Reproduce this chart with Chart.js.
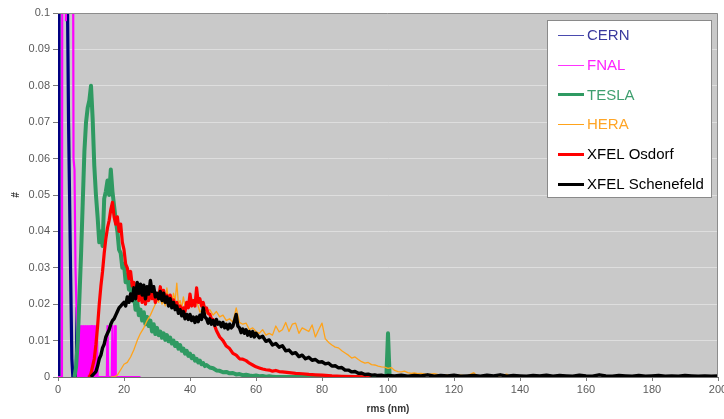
<!DOCTYPE html>
<html>
<head>
<meta charset="utf-8">
<script src="https://cdn.jsdelivr.net/npm/chart.js@4"></script>
<style>
html,body{margin:0;padding:0;background:#fff;}
canvas{display:block;}
</style>
</head>
<body>
<canvas id="c" width="724" height="419"></canvas>
<script>
// ---------- data ----------
const seriesNames = ['CERN', 'FNAL', 'TESLA', 'HERA', 'XFEL Osdorf', 'XFEL Schenefeld'];
const xTickValues = [0, 20, 40, 60, 80, 100, 120, 140, 160, 180, 200];

const cernX = [0, 0.3, 1.5, 2.5, 2.9, 3.2, 3.5, 3.8, 4.2, 4.5, 5.5, 5.8, 6.1, 10];
const cernY = [0, 0.30, 0.35, 0.20, 0.10, 0.07, 0.05, 0.03, 0.005, 0, 0, 0.019, 0, 0];

const fnalX = [0, 1.2, 1.35, 2.2, 2.4, 2.6, 4.4, 4.7, 5.0, 5.3, 5.6, 5.8, 6.1, 6.4, 6.7, 7.0, 7.3, 7.6, 7.9, 8.2, 8.5, 8.8, 9.1, 9.4, 9.7, 10.0, 10.3, 10.6, 10.9, 11.2, 11.5, 11.8, 12.0, 14.8, 15.0, 15.2, 16.3, 16.5, 16.7, 17.1, 17.3, 17.5, 25];
const fnalY = [0, 0, 0.2, 0.2, 0.098, 0.2, 0.2, 0.06, 0.057, 0.03, 0.019, 0.014, 0, 0.014, 0, 0.014, 0, 0.014, 0, 0.014, 0, 0.014, 0, 0.014, 0, 0.014, 0, 0.014, 0, 0.014, 0, 0.014, 0, 0, 0.014, 0, 0, 0.014, 0, 0, 0.014, 0, 0];

const teslaX = [5, 5.5, 6, 6.5, 7, 7.5, 8, 8.5, 9, 9.5, 10, 10.5, 11, 11.5, 12, 12.5, 13, 13.5, 14, 14.5, 15, 15.5, 16, 16.5, 17, 17.5, 18, 18.5, 19, 19.5, 20, 20.5, 21, 21.5, 22, 22.5, 23, 23.5, 24, 24.5, 25, 25.5, 26, 26.5, 27, 27.5, 28, 28.5, 29, 29.5, 30, 30.5, 31, 31.5, 32, 32.5, 33, 33.5, 34, 34.5, 35, 35.5, 36, 36.5, 37, 37.5, 38, 38.5, 39, 39.5, 40, 40.5, 41, 41.5, 42, 42.5, 43, 43.5, 44, 44.5, 45, 46, 47, 48, 49, 50, 51, 52, 53, 54, 55, 56, 57, 58, 59, 60, 61, 62, 63, 64, 65, 66, 99.5, 100, 100.5, 104];
const teslaY = [0, 0.003, 0.010, 0.022, 0.034, 0.048, 0.062, 0.070, 0.074, 0.076, 0.080, 0.071, 0.058, 0.050, 0.044, 0.037, 0.040, 0.036, 0.049, 0.051, 0.054, 0.050, 0.057, 0.051, 0.047, 0.043, 0.040, 0.035, 0.034, 0.030, 0.031, 0.026, 0.028, 0.024, 0.0255, 0.021, 0.0225, 0.0185, 0.0205, 0.017, 0.0185, 0.0155, 0.0178, 0.0145, 0.0165, 0.014, 0.0155, 0.0125, 0.0145, 0.0118, 0.0135, 0.0115, 0.0125, 0.0108, 0.012, 0.0102, 0.0115, 0.0098, 0.0108, 0.0092, 0.0100, 0.0085, 0.0094, 0.0078, 0.0088, 0.0072, 0.0078, 0.0064, 0.0072, 0.0058, 0.0064, 0.0052, 0.0058, 0.0045, 0.005, 0.004, 0.0045, 0.0035, 0.0038, 0.003, 0.0033, 0.0026, 0.0024, 0.0018, 0.0017, 0.0013, 0.0014, 0.001, 0.0011, 0.0007, 0.0008, 0.0005, 0.0006, 0.0004, 0.0003, 0.0004, 0.0002, 0.0003, 0.0001, 0.0002, 0.0001, 0, 0, 0.012, 0, 0];

const heraX = [16, 17, 18, 19, 20, 21, 22, 23, 24, 25, 26, 27, 28, 29, 30, 30.5, 31, 31.5, 32, 32.5, 33, 33.5, 34, 34.5, 35, 35.5, 36, 36.5, 37, 37.5, 38, 38.5, 39, 39.5, 40, 41, 42, 43, 44, 45, 46, 47, 48, 49, 50, 51, 52, 53, 54, 55, 56, 57, 58, 59, 60, 61, 62, 63, 64, 65, 66, 67, 68, 69, 70, 71, 72, 73, 74, 75, 76, 77, 78, 79, 80, 81, 82, 83, 84, 85, 86, 87, 88, 89, 90, 91, 92, 93, 94, 95, 96, 97, 98, 99, 100, 101, 102, 103, 104, 105, 106, 107, 108, 109, 110, 112, 114, 116, 118, 120, 122, 124, 126, 127, 130, 133, 136, 137, 140];
const heraY = [0, 0, 0.0005, 0.002, 0.0035, 0.004, 0.0055, 0.0075, 0.010, 0.012, 0.0135, 0.0155, 0.017, 0.019, 0.021, 0.0205, 0.0225, 0.020, 0.021, 0.0195, 0.0245, 0.021, 0.022, 0.0205, 0.023, 0.021, 0.0258, 0.020, 0.021, 0.019, 0.022, 0.0195, 0.0205, 0.019, 0.023, 0.020, 0.021, 0.0178, 0.019, 0.0175, 0.0185, 0.017, 0.018, 0.0165, 0.017, 0.0155, 0.016, 0.015, 0.019, 0.015, 0.0145, 0.0148, 0.013, 0.0135, 0.0125, 0.012, 0.013, 0.0115, 0.012, 0.0115, 0.014, 0.0124, 0.013, 0.015, 0.0125, 0.0145, 0.0148, 0.012, 0.0135, 0.013, 0.0125, 0.0143, 0.011, 0.013, 0.0148, 0.0105, 0.0095, 0.0088, 0.0082, 0.008, 0.0072, 0.0066, 0.006, 0.0052, 0.0055, 0.0048, 0.0042, 0.0038, 0.004, 0.0034, 0.0033, 0.003, 0.0028, 0.0027, 0.0024, 0.0026, 0.0018, 0.0015, 0.0014, 0.0016, 0.0012, 0.001, 0.0011, 0.0009, 0.001, 0.0007, 0.0009, 0.0005, 0.0006, 0.0004, 0.0005, 0.0003, 0.0012, 0.0002, 0.0003, 0.0002, 0.0008, 0.0001, 0];

const osdorfX = [9, 9.5, 10, 10.5, 11, 11.5, 12, 12.5, 13, 13.5, 14, 14.5, 15, 15.5, 16, 16.5, 17, 17.5, 18, 18.5, 19, 19.5, 20, 20.5, 21, 21.5, 22, 22.5, 23, 23.5, 24, 24.5, 25, 25.5, 26, 26.5, 27, 27.5, 28, 28.5, 29, 29.5, 30, 30.5, 31, 31.5, 32, 32.5, 33, 33.5, 34, 34.5, 35, 35.5, 36, 36.5, 37, 37.5, 38, 38.5, 39, 39.5, 40, 40.5, 41, 41.5, 42, 42.5, 43, 43.5, 44, 44.5, 45, 45.5, 46, 46.5, 47, 47.5, 48, 49, 50, 51, 52, 53, 54, 55, 56, 57, 58, 59, 60, 61, 62, 63, 64, 65, 66, 67, 68, 70, 72, 74, 76, 78, 80, 83, 86, 90, 95];
const osdorfY = [0, 0, 0.001, 0.003, 0.005, 0.009, 0.014, 0.020, 0.025, 0.029, 0.034, 0.038, 0.041, 0.043, 0.046, 0.048, 0.044, 0.042, 0.044, 0.040, 0.042, 0.037, 0.035, 0.031, 0.030, 0.027, 0.029, 0.025, 0.026, 0.0225, 0.024, 0.021, 0.0228, 0.0205, 0.022, 0.020, 0.0228, 0.021, 0.0235, 0.0215, 0.0232, 0.0205, 0.023, 0.0215, 0.0248, 0.022, 0.0238, 0.0215, 0.0225, 0.020, 0.0225, 0.0198, 0.0212, 0.019, 0.0205, 0.0182, 0.0195, 0.0178, 0.019, 0.018, 0.0205, 0.019, 0.0228, 0.0195, 0.021, 0.0195, 0.0245, 0.0205, 0.0215, 0.0195, 0.0205, 0.0185, 0.019, 0.0175, 0.0172, 0.016, 0.0158, 0.014, 0.0128, 0.011, 0.010, 0.0085, 0.0078, 0.0065, 0.006, 0.005, 0.0049, 0.0045, 0.0038, 0.0033, 0.0028, 0.0025, 0.0022, 0.002, 0.0019, 0.0016, 0.0018, 0.0015, 0.0014, 0.0012, 0.001, 0.0009, 0.0007, 0.0006, 0.0005, 0.0003, 0.0002, 0.0001, 0];

const schenefeldX = [10, 10.5, 11, 11.5, 12, 12.5, 13, 13.5, 14, 14.5, 15, 15.5, 16, 16.5, 17, 17.5, 18, 18.5, 19, 19.5, 20, 20.5, 21, 21.5, 22, 22.5, 23, 23.5, 24, 24.5, 25, 25.5, 26, 26.5, 27, 27.5, 28, 28.5, 29, 29.5, 30, 30.5, 31, 31.5, 32, 32.5, 33, 33.5, 34, 34.5, 35, 35.5, 36, 36.5, 37, 37.5, 38, 38.5, 39, 39.5, 40, 40.5, 41, 41.5, 42, 42.5, 43, 43.5, 44, 44.5, 45, 45.5, 46, 46.5, 47, 47.5, 48, 48.5, 49, 49.5, 50, 50.5, 51, 51.5, 52, 52.5, 53, 53.5, 54, 54.5, 55, 55.5, 56, 56.5, 57, 57.5, 58, 58.5, 59, 59.5, 60, 61, 62, 63, 64, 65, 66, 67, 68, 69, 70, 71, 72, 73, 74, 75, 76, 77, 78, 79, 80, 81, 82, 83, 84, 85, 86, 87, 88, 89, 90, 91, 92, 93, 94, 95, 96, 97, 98, 99, 100, 102, 104, 106, 108, 110, 112, 114, 116, 118, 120, 122, 124, 126, 128, 130, 132, 134, 136, 138, 140, 142, 144, 146, 148, 150, 152, 154, 156, 158, 160, 162, 164, 166, 168, 170, 172, 174, 176, 178, 180, 182, 184, 186, 188, 190, 192, 194, 196, 198, 200];
const schenefeldY = [0, 0.0005, 0.001, 0.0015, 0.003, 0.005, 0.006, 0.008, 0.009, 0.011, 0.012, 0.013, 0.0145, 0.0155, 0.016, 0.017, 0.018, 0.019, 0.0195, 0.020, 0.0205, 0.0195, 0.022, 0.0205, 0.0228, 0.021, 0.0245, 0.0215, 0.026, 0.023, 0.0255, 0.0225, 0.0252, 0.0215, 0.0248, 0.0228, 0.0265, 0.0235, 0.0248, 0.022, 0.023, 0.0215, 0.0235, 0.021, 0.023, 0.0205, 0.022, 0.0195, 0.0215, 0.019, 0.0205, 0.0185, 0.0195, 0.0175, 0.0185, 0.0168, 0.018, 0.016, 0.0172, 0.0158, 0.0172, 0.0155, 0.0165, 0.015, 0.0165, 0.0152, 0.017, 0.0158, 0.019, 0.0165, 0.016, 0.0148, 0.016, 0.0145, 0.0155, 0.0142, 0.0158, 0.0145, 0.015, 0.0138, 0.015, 0.0135, 0.0145, 0.0132, 0.0145, 0.0135, 0.014, 0.0155, 0.0172, 0.014, 0.0135, 0.0122, 0.0132, 0.012, 0.013, 0.0115, 0.0125, 0.0112, 0.0125, 0.011, 0.012, 0.0108, 0.0112, 0.0098, 0.0102, 0.0088, 0.0092, 0.0082, 0.0086, 0.0072, 0.0074, 0.0064, 0.0067, 0.0056, 0.006, 0.005, 0.0054, 0.0046, 0.0048, 0.0041, 0.0042, 0.0036, 0.0038, 0.003, 0.0031, 0.0025, 0.0026, 0.0019, 0.0019, 0.0014, 0.0015, 0.001, 0.0011, 0.0007, 0.0008, 0.0005, 0.0006, 0.0004, 0.0005, 0.0003, 0.0004, 0.0003, 0.0005, 0.0002, 0.0004, 0.0003, 0.0006, 0.0002, 0.0004, 0.0003, 0.0005, 0.0002, 0.0003, 0.0004, 0.0002, 0.0005, 0.0003, 0.0006, 0.0002, 0.0004, 0.0003, 0.0002, 0.0004, 0.0003, 0.0005, 0.0002, 0.0004, 0.0003, 0.0002, 0.0005, 0.0003, 0.0002, 0.0006, 0.0003, 0.0002, 0.0004, 0.0003, 0.0002, 0.0004, 0.0002, 0.0003, 0.0004, 0.0002, 0.0003, 0.0002, 0.0004, 0.0003, 0.0002, 0.0003, 0.0002, 0.0003, 0.0002];

// ---------- styles ----------
const lineColors  = ['#000080', '#ff00ff', '#2f9a62', '#ffa31a', '#ff0000', '#000000'];
const lineWidths  = [3.2, 2.2, 4, 1.3, 3.2, 3.4];
const legendText  = ['#3a3a9e', '#ff22ff', '#3f9f6f', '#ffa526', '#000000', '#000000'];
const legendLineC = ['#4a4aae', '#ff33ff', '#2f9a62', '#ffa31a', '#ff0000', '#000000'];
const legendLineW = [1, 1, 3, 1, 3, 3];

const xs = [cernX, fnalX, teslaX, heraX, osdorfX, schenefeldX];
const ys = [cernY, fnalY, teslaY, heraY, osdorfY, schenefeldY];

const datasets = seriesNames.map((name, i) => ({
  label: name,
  data: xs[i].map((x, k) => ({x: x, y: ys[i][k]})),
  borderColor: lineColors[i],
  backgroundColor: lineColors[i],
  borderWidth: lineWidths[i],
  pointRadius: 0,
  tension: 0,
  fill: false,
  borderJoinStyle: 'round',
  order: seriesNames.length - i
}));

const plotBg = {
  id: 'plotBg',
  beforeDraw(chart) {
    const {ctx, chartArea: a} = chart;
    ctx.save();
    ctx.fillStyle = '#c9c9c9';
    ctx.fillRect(a.left, a.top, a.right - a.left, a.bottom - a.top);
    ctx.restore();
  },
  afterDatasetsDraw(chart) {
    const {ctx, chartArea: a} = chart;
    ctx.save();
    ctx.strokeStyle = '#8c8c8c';
    ctx.lineWidth = 1;
    ctx.beginPath();
    ctx.moveTo(a.left, a.top + 0.5);
    ctx.lineTo(a.right - 0.5, a.top + 0.5);
    ctx.lineTo(a.right - 0.5, a.bottom);
    ctx.stroke();
    ctx.restore();
  }
};

const boxLegend = {
  id: 'boxLegend',
  afterDraw(chart) {
    const ctx = chart.ctx;
    const bx = 547, by = 20, bw = 165, bh = 178;
    ctx.save();
    ctx.fillStyle = '#ffffff';
    ctx.fillRect(bx, by, bw, bh);
    ctx.strokeStyle = '#8a8a8a';
    ctx.lineWidth = 1;
    ctx.strokeRect(bx + 0.5, by + 0.5, bw - 1, bh - 1);
    ctx.font = '15px "Liberation Sans", Arial, sans-serif';
    ctx.textBaseline = 'middle';
    ctx.textAlign = 'left';
    seriesNames.forEach((name, i) => {
      const y = 35 + i * 29.7;
      ctx.strokeStyle = legendLineC[i];
      ctx.lineWidth = legendLineW[i];
      ctx.beginPath();
      ctx.moveTo(558, Math.round(y) + (legendLineW[i] % 2 ? 0.5 : 0));
      ctx.lineTo(584, Math.round(y) + (legendLineW[i] % 2 ? 0.5 : 0));
      ctx.stroke();
      ctx.fillStyle = legendText[i];
      ctx.fillText(name, 587, y + 1);
    });
    ctx.restore();
  }
};

new Chart(document.getElementById('c'), {
  type: 'line',
  data: { datasets: datasets },
  plugins: [plotBg, boxLegend],
  options: {
    responsive: false,
    animation: false,
    devicePixelRatio: 1,
    layout: { padding: { left: 0, right: 6, top: 13, bottom: 0 } },
    plugins: { legend: { display: false }, tooltip: { enabled: false } },
    scales: {
      x: {
        type: 'linear',
        min: 0, max: 200,
        afterBuildTicks(scale) { scale.ticks = xTickValues.map(v => ({value: v})); },
        afterFit(scale) { scale.height = 42; scale.paddingLeft = 0; scale.paddingRight = 0; },
        ticks: {
          color: '#5a5a5a',
          font: { family: '"Liberation Sans", Arial, sans-serif', size: 11 },
          padding: 2,
          maxRotation: 0,
          autoSkip: false
        },
        grid: { drawOnChartArea: false, drawTicks: true, tickLength: 4, tickColor: '#7a7a7a' },
        border: { display: true, color: '#6f6f6f', width: 1 },
        title: {
          display: true,
          text: 'rms (nm)',
          color: '#333333',
          font: { family: '"Liberation Sans", Arial, sans-serif', size: 10, weight: 'bold' },
          padding: { top: 0, bottom: 4 }
        }
      },
      y: {
        type: 'linear',
        min: 0, max: 0.1,
        afterFit(scale) { scale.width = 58; scale.paddingTop = 0; scale.paddingBottom = 0; },
        ticks: {
          stepSize: 0.01,
          color: '#5a5a5a',
          font: { family: '"Liberation Sans", Arial, sans-serif', size: 11 },
          padding: 3,
          callback: v => String(Number(Number(v).toFixed(2)))
        },
        grid: { color: '#dedede', lineWidth: 1, drawTicks: true, tickLength: 5, tickColor: '#7a7a7a' },
        border: { display: true, color: '#6f6f6f', width: 1 },
        title: {
          display: true,
          text: '#',
          color: '#333333',
          font: { family: '"Liberation Sans", Arial, sans-serif', size: 10, weight: 'bold' },
          padding: { top: 10, bottom: 0 }
        }
      }
    }
  }
});
</script>
</body>
</html>
